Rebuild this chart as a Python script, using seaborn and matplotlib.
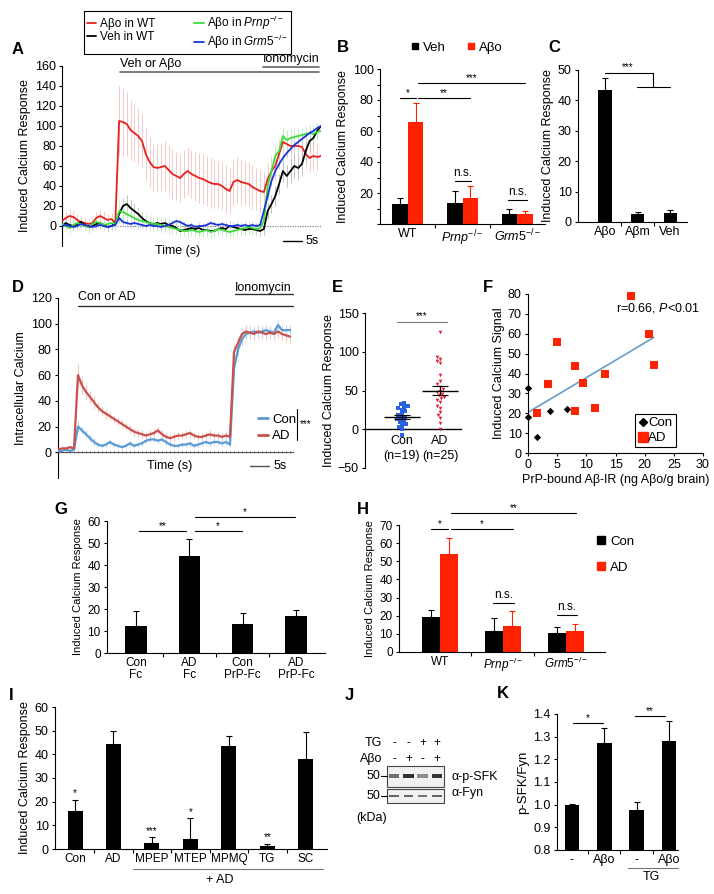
import numpy as np
import pandas as pd
import matplotlib
matplotlib.use("Agg")
import matplotlib.pyplot as plt
from matplotlib.lines import Line2D
from matplotlib.patches import Rectangle
from matplotlib.transforms import blended_transform_factory
import seaborn as sns

# ======================= DATA =======================
# ---- A: calcium traces (time in s) ----
A_time = list(range(69))
A_keys = ['red', 'black', 'green', 'blue']
A_labels = ['Aβo in WT', 'Veh in WT', 'Aβo in $\\mathit{Prnp}^{-/-}$', 'Aβo in $\\mathit{Grm5}^{-/-}$']
A_red = [5, 8, 10, 9, 6, 4, 3, 2, 3, 8, 10, 8, 6, 7, 3,
         105, 104, 102, 96, 93, 90, 85, 72, 64, 59, 58, 59, 60, 56, 52, 50, 48, 52, 55, 52,
         50, 48, 47, 45, 43, 42, 42, 40, 37, 35, 44, 46, 44, 43, 42, 39, 37, 35, 34, 47,
         55, 60, 72, 84, 82, 80, 80, 80, 79, 72, 68, 70, 69, 70]
A_black = [0, 3, 1, 0, 2, 4, 1, -1, 0, 2, 3, 1, -1, 0, 3,
           12, 20, 22, 18, 15, 12, 8, 5, 3, 2, 3, 2, 3, 1, 0, -2, -5, -4, -3, -2,
           -3, -2, -4, -4, -5, -5, -3, -2, -3, 0, -1, -2, -3, -4, -3, -3, -4, -5, -3, 15,
           22, 30, 42, 55, 50, 55, 60, 58, 62, 75, 85, 88, 95, 100]
A_green = [2, 0, -2, 1, 3, 2, 0, -1, 2, 4, 3, 1, 2, 3, 2,
           15, 14, 12, 10, 8, 6, 5, 4, 3, 2, 2, 1, 0, -1, -2, -3, -4, -5, -5, -4,
           -5, -6, -5, -4, -6, -5, -3, -4, -5, -6, -5, -4, -3, -2, -1, -2, -3, -2, 5, 40,
           55, 70, 75, 90, 86, 88, 89, 90, 91, 92, 93, 92, 94, 95]
A_blue = [0, 1, 0, -1, 0, 2, 1, 0, -1, 0, 1, 0, -1, 0, 1,
          8, 4, 3, 2, 3, 2, 1, 0, 1, 0, 0, -1, 0, 1, 3, 5, 4, 2, 0, 1,
          -1, 0, 0, 1, 3, 2, 1, 2, 1, 0, 0, 1, 0, 1, 0, 1, 0, 1, 15, 30,
          45, 55, 62, 68, 73, 77, 81, 84, 87, 90, 93, 95, 98, 100]
A_red_err = [6, 6, 7, 7, 6, 6, 5, 5, 6, 6, 7, 7, 6, 6, 6,
             35, 34, 32, 30, 29, 28, 27,
             26, 25, 24, 24, 24, 25, 25, 25, 24, 24, 24, 24, 24, 25, 25, 25, 25, 25, 24, 24,
             24, 24, 23, 23, 23, 23, 22, 22, 22, 21, 21, 20,
             16, 15, 15, 15, 14, 14, 14, 14, 14, 14, 14, 14, 14, 14, 14]
A_black_err = [4, 4, 4, 5, 4, 4, 4, 5, 4, 4, 4, 4, 5, 4, 4,
               6, 8, 9, 9, 8, 7, 6, 6, 5, 5, 5,
               5, 5, 5, 5, 5, 5, 4, 5, 5, 5, 5, 5, 5, 5, 4, 5, 5, 5, 5, 5, 5, 5, 5, 4, 5, 5, 5, 6,
               8, 9, 10, 10, 11, 11, 12, 12, 12, 12, 11, 10, 9, 8, 8]
A_green_err = [5, 5, 6, 6, 5, 5, 5, 6, 6, 5, 5, 5, 6, 6, 6,
               12, 12, 11, 10, 9, 9, 8, 8, 7, 7, 7,
               7, 7, 7, 7, 6, 6, 6, 6, 6, 6, 6, 6, 6, 6, 6, 6, 6, 6, 6, 6, 6, 6, 6, 6, 6, 6, 6, 7,
               10, 10, 10, 9, 9, 9, 9, 8, 8, 8, 8, 8, 8, 8, 8]
A_blue_err = [3, 3, 3, 3, 3, 3, 3, 3, 3, 3, 3, 3, 3, 3, 3,
              4, 4, 4, 4, 4, 3, 3, 3, 3, 3, 3,
              3, 3, 3, 3, 3, 3, 3, 3, 3, 3, 3, 3, 3, 3, 3, 3, 3, 3, 3, 3, 3, 3, 3, 3, 3, 3, 3, 4,
              4, 4, 4, 4, 4, 4, 4, 4, 4, 4, 4, 4, 4, 4, 4]

# ---- B ----
B_groups = ['WT', 'Prnp', 'Grm5']
B_ticklabels = ['WT', '$\\mathit{Prnp}^{-/-}$', '$\\mathit{Grm5}^{-/-}$']
B_treat = ['Veh', 'Aβo']
B_veh = [13, 13.5, 6.5]
B_veh_err = [4, 7.5, 3]
B_abo = [66, 17, 6.5]
B_abo_err = [12, 7.5, 2]

# ---- C ----
C_labels = ['Aβo', 'Aβm', 'Veh']
C_mean = [43.5, 2.6, 3.0]
C_err = [4, 0.7, 1]

# ---- D ----
D_time = list(range(59))
D_ad = [2, 3, 3, 4, 3,
        60, 52, 47, 43, 39, 35, 32, 30, 28, 26,
        24, 22, 20, 18, 16, 15, 14, 13, 14, 15,
        17, 14, 12, 11, 12, 13, 13, 14, 15, 13,
        12, 12, 13, 14, 13, 13, 12, 13, 12, 78,
        85, 92, 94, 93, 92, 94, 93, 92, 93, 92,
        94, 92, 91, 90]
D_con = [1, 1, 2, 1, 2,
         20, 17, 14, 11, 8, 6, 5, 6, 8, 6,
         5, 4, 5, 7, 5, 6, 7, 9, 10, 10,
         9, 10, 8, 6, 5, 5, 6, 6, 7, 5,
         6, 7, 8, 7, 8, 8, 7, 8, 6, 65,
         80, 88, 92, 93, 94, 93, 94, 95, 94, 93,
         99, 95, 95, 95]
D_ad_err = [2, 2, 2, 2, 2,
            9, 7, 6, 5, 5, 4, 4, 4, 3, 3,
            3, 3, 3, 3, 3, 3, 3, 3, 3, 3,
            3, 3, 3, 3, 3, 3, 3, 3, 3, 3,
            3, 3, 3, 3, 3, 3, 3, 3, 3, 6,
            5, 5, 5, 5, 5, 5, 5, 5, 5, 5,
            5, 5, 5, 5]
D_con_err = [2, 2, 2, 2, 2,
             4, 3, 3, 3, 3, 2, 2, 2, 2, 2,
             2, 2, 2, 2, 2, 2, 2, 2, 2, 2,
             2, 2, 2, 2, 2, 2, 2, 2, 2, 2,
             2, 2, 2, 2, 2, 2, 2, 2, 2, 6,
             5, 5, 4, 4, 4, 4, 4, 4, 4, 4,
             4, 4, 4, 4]

# ---- E ----
E_con = [34, 32, 30, 29, 27, 25, 23, 20, 18, 16, 15, 13, 11, 9, 7, 5, 3, 0, -8]
E_ad = [126, 93, 91, 88, 85, 70, 62, 58, 55, 52, 50, 48, 46, 44, 42, 40, 38, 35, 30, 27,
        22, 18, 14, 8, 0]
E_ticklabels = ['Con\n(n=19)', 'AD\n(n=25)']

# ---- F ----
F_con_x = [0, 0, 1.6, 3.8, 6.6]
F_con_y = [32.5, 18, 8, 21, 22]
F_ad_x = [1.6, 3.5, 4.9, 8.0, 8.0, 9.5, 11.5, 13.2, 17.6, 20.7, 21.6]
F_ad_y = [20, 34.5, 56, 44, 21, 35, 22.5, 40, 79, 60, 44.5]

# ---- G ----
G_labels = ['Con\nFc', 'AD\nFc', 'Con\nPrP-Fc', 'AD\nPrP-Fc']
G_mean = [12.3, 44, 13, 17]
G_err = [6.7, 8, 5, 2.5]

# ---- H ----
H_groups = ['WT', 'Prnp', 'Grm5']
H_ticklabels = ['WT', '$\\mathit{Prnp}^{-/-}$', '$\\mathit{Grm5}^{-/-}$']
H_con = [19.3, 11.8, 10.3]
H_con_err = [3.7, 7.1, 3.4]
H_ad = [54, 14.4, 11.6]
H_ad_err = [9, 8.3, 3.8]

# ---- I ----
I_labels = ['Con', 'AD', 'MPEP', 'MTEP', 'MPMQ', 'TG', 'SC']
I_mean = [16.1, 44.3, 2.5, 4.3, 43.6, 1.4, 38]
I_err = [4.7, 5.6, 2.5, 8.7, 4.1, 0.8, 11.5]
I_stars = ['*', '', '***', '*', '', '**', '']

# ---- J (blot) ----
J_tg = ['-', '-', '+', '+']
J_abo = ['-', '+', '-', '+']
J_psfk = [0.55, 0.8, 0.45, 0.8]
J_fyn = [0.6, 0.6, 0.55, 0.6]

# ---- K ----
K_ids = ['c', 'a', 'tc', 'ta']
K_labels = ['-', 'Aβo', '-', 'Aβo']
K_mean = [1.0, 1.273, 0.976, 1.282]
K_err = [0.003, 0.067, 0.034, 0.088]

# ======================= STYLE =======================
sns.set_style('ticks')
plt.rcParams.update({
    'font.family': ['Liberation Sans', 'DejaVu Sans'],
    'mathtext.fontset': 'custom',
    'mathtext.rm': 'Liberation Sans',
    'mathtext.it': 'Liberation Sans:italic',
    'mathtext.bf': 'Liberation Sans:bold',
    'axes.linewidth': 0.8,
    'axes.edgecolor': 'black',
    'axes.labelcolor': 'black',
    'text.color': 'black',
    'xtick.color': 'black', 'ytick.color': 'black',
    'xtick.major.width': 0.8, 'ytick.major.width': 0.8,
    'xtick.major.size': 3, 'ytick.major.size': 3,
    'xtick.major.pad': 2, 'ytick.major.pad': 2,
})

RED = '#ff2200'
W, H = 714, 894
fig = plt.figure(figsize=(W / 100, H / 100), dpi=100)


def px_axes(x0, y0, x1, y1):
    return fig.add_axes([x0 / W, 1 - y1 / H, (x1 - x0) / W, (y1 - y0) / H])


def fx(x):
    return x / W


def fy(y):
    return 1 - y / H


def ftext(x, y, s, **kw):
    kw.setdefault('va', 'center')
    fig.text(fx(x), fy(y), s, **kw)


def fline(x0, x1, y0, y1=None, **kw):
    if y1 is None:
        y1 = y0
    kw.setdefault('color', 'black')
    kw.setdefault('lw', 0.8)
    fig.add_artist(Line2D([fx(x0), fx(x1)], [fy(y0), fy(y1)], transform=fig.transFigure, **kw))


def sig(ax, x1, x2, y, text, fs=8, color='black', dy=0.0):
    ax.plot([x1, x2], [y, y], color=color, lw=0.8, clip_on=False)
    ax.text((x1 + x2) / 2, y + dy, text, ha='center', va='bottom', fontsize=fs, clip_on=False)


def bar_err(ax, xs, means, errs, color='black'):
    ax.errorbar(xs, means, yerr=[np.zeros(len(means)), errs], fmt='none', ecolor=color,
                elinewidth=0.8, capsize=2.2, capthick=0.8, zorder=3)


def cat_axis(ax, n, labels, fs):
    ax.set_xticks(range(n))
    ax.set_xticklabels(labels, fontsize=fs)
    ax.set_xticks(np.arange(n - 1) + 0.5, minor=True)
    ax.tick_params(axis='x', which='major', length=0, pad=3)
    ax.tick_params(axis='x', which='minor', length=3, width=0.8, direction='out', color='black')
    ax.set_xlabel('')
    sns.despine(ax=ax)


def letter(x, y, s):
    ftext(x, y, s, fontsize=12, fontweight='bold', ha='left')


# ======================= PANEL A =======================
axA = px_axes(62, 66, 321, 246)
A_vals = [A_red, A_black, A_green, A_blue]
A_errs = [A_red_err, A_black_err, A_green_err, A_blue_err]
A_cols = {'red': '#e8211d', 'black': '#000000', 'green': '#3ddc3a', 'blue': '#1a35d4'}
A_ecols = ['#f5c2c2', '#b8b8b8', '#c2f0be', '#bcc8f2']
for v, e, c in zip(A_vals, A_errs, A_ecols):
    v = np.array(v, float); e = np.array(e, float)
    axA.vlines(A_time, v - e, v + e, color=c, lw=0.6, zorder=1)
dfA = pd.DataFrame({'t': np.tile(A_time, 4),
                    'value': np.concatenate(A_vals),
                    'series': np.repeat(A_keys, len(A_time))})
axA.axhline(0, color='#888888', lw=0.9, ls=(0, (1, 1)), zorder=0)
sns.lineplot(data=dfA, x='t', y='value', hue='series', hue_order=A_keys, palette=A_cols,
             lw=1.3, legend=False, errorbar=None, ax=axA, zorder=3)
axA.set_xlim(0, 68)
axA.set_ylim(-20, 160)
axA.set_yticks(range(0, 161, 20))
axA.tick_params(axis='y', labelsize=9, length=2)
axA.set_xticks([])
axA.set_xlabel('')
axA.set_ylabel('Induced Calcium Response', fontsize=9, labelpad=3)
for s in ['top', 'right', 'bottom']:
    axA.spines[s].set_visible(False)
ftext(178, 251, 'Time (s)', fontsize=9, ha='center')
fline(283, 302, 241, color='black', lw=1)
ftext(306, 241, '5s', fontsize=9, ha='left')
ftext(120, 64, 'Veh or Aβo', fontsize=9, ha='left')
fline(120, 319, 72, color='#666666', lw=1.2)
ftext(263, 59, 'Ionomycin', fontsize=9, ha='left')
fline(263, 319, 67, color='#666666', lw=1.2)
A_handles = [Line2D([], [], color=A_cols[k], lw=1.3) for k in A_keys]
legA = fig.legend(A_handles, A_labels, loc='upper left', bbox_to_anchor=(fx(84), fy(11)), ncol=2,
                  fontsize=8.5, frameon=True, fancybox=False, edgecolor='black', framealpha=1,
                  handlelength=0.8, handletextpad=0.3, columnspacing=3.3, labelspacing=0.05,
                  borderpad=0.25, borderaxespad=0)
legA.get_frame().set_linewidth(0.8)
letter(12, 50, 'A')

# ======================= PANEL B =======================
axB = px_axes(380, 69, 545, 224)
dfB = pd.DataFrame({'group': B_groups * 2, 'treat': [B_treat[0]] * 3 + [B_treat[1]] * 3,
                    'value': B_veh + B_abo})
sns.barplot(data=dfB, x='group', y='value', hue='treat', hue_order=B_treat, order=B_groups,
            palette=['black', RED], width=0.57, saturation=1, errorbar=None, legend=False,
            ax=axB, linewidth=0)
for j, (m, e, c) in enumerate([(B_veh, B_veh_err, 'black'), (B_abo, B_abo_err, RED)]):
    bar_err(axB, np.arange(3) + (j - 0.5) * 0.285, m, e, c)
axB.set_xlim(-0.51, 2.51)
axB.set_ylim(0, 100)
axB.set_yticks(range(0, 101, 10))
axB.set_yticklabels(['' if (v % 20 or v == 0) else str(v) for v in range(0, 101, 10)])
axB.tick_params(axis='y', labelsize=9, length=2.5)
cat_axis(axB, 3, B_ticklabels, 9)
axB.set_ylabel('Induced Calcium Response', fontsize=9, labelpad=3)
sig(axB, -0.14, 0.14, 81, '*', fs=7)
sig(axB, 0.18, 1.14, 81, '**', fs=7)
sig(axB, 0.18, 2.15, 91, '***', fs=7)
sig(axB, 0.86, 1.16, 28, 'n.s.', fs=8.5, dy=1)
sig(axB, 1.84, 2.18, 15.5, 'n.s.', fs=8.5, dy=1)
B_handles = [Line2D([], [], marker='s', color=c, ls='', markersize=5) for c in ['black', RED]]
fig.legend(B_handles, B_treat, loc='center', bbox_to_anchor=(fx(457), fy(48)), ncol=2,
           fontsize=9.5, frameon=False, handlelength=0.6, handletextpad=0.3, columnspacing=1.6)
letter(337, 48, 'B')

# ======================= PANEL C =======================
axC = px_axes(578, 70, 687, 222)
sns.barplot(x=C_labels, y=C_mean, color='black', width=0.4, saturation=1, errorbar=None,
            ax=axC, linewidth=0)
bar_err(axC, range(3), C_mean, C_err)
axC.set_xlim(-0.83, 2.52)
axC.set_ylim(0, 50)
axC.set_yticks(range(0, 51, 10))
axC.tick_params(axis='y', labelsize=9, length=2.5)
cat_axis(axC, 3, C_labels, 9)
axC.set_ylabel('Induced Calcium Response', fontsize=9, labelpad=3)
axC.plot([0, 1.48, 1.48], [49, 49, 44.5], color='black', lw=0.8, clip_on=False)
axC.plot([0.98, 2.0], [44.5, 44.5], color='black', lw=0.8, clip_on=False)
axC.text(0.7, 49.3, '***', ha='center', va='bottom', fontsize=7)
letter(548, 48, 'C')

# ======================= PANEL D =======================
axD = px_axes(58, 298, 293, 478)
D_ecols = {'Con': '#c3d8ee', 'AD': '#f2c6c4'}
D_cols = {'Con': '#5b9bd5', 'AD': '#c9504b'}
for v, e, k in [(D_ad, D_ad_err, 'AD'), (D_con, D_con_err, 'Con')]:
    v = np.array(v, float); e = np.array(e, float)
    axD.vlines(D_time, v - e, v + e, color=D_ecols[k], lw=0.8, zorder=1)
dfD = pd.DataFrame({'t': np.tile(D_time, 2), 'value': np.concatenate([D_con, D_ad]),
                    'cond': np.repeat(['Con', 'AD'], len(D_time))})
sns.lineplot(data=dfD, x='t', y='value', hue='cond', hue_order=['Con', 'AD'], palette=D_cols,
             lw=1.6, legend=False, errorbar=None, ax=axD, zorder=3)
axD.set_xlim(0, 58.75)
axD.set_ylim(-20, 120)
axD.set_yticks(range(0, 121, 20))
axD.tick_params(axis='y', labelsize=9, length=2.5)
axD.spines['bottom'].set_position(('data', 0))
axD.spines['bottom'].set_color('#555555')
axD.set_xticks(D_time)
axD.set_xticklabels([])
axD.tick_params(axis='x', length=2, width=0.6, direction='inout', color='#555555')
axD.set_xlabel('')
axD.set_ylabel('Intracellular Calcium', fontsize=9, labelpad=3)
sns.despine(ax=axD)
ftext(170, 466, 'Time (s)', fontsize=9, ha='center')
fline(250, 269, 466, color='#555555', lw=1)
ftext(274, 466, '5s', fontsize=9, ha='left')
ftext(78, 297, 'Con or AD', fontsize=9, ha='left')
fline(78, 293, 306, color='#333333', lw=1)
ftext(235, 288, 'Ionomycin', fontsize=9, ha='left')
fline(235, 293, 294, color='#333333', lw=1)
D_handles = [Line2D([], [], color=D_cols[k], lw=2) for k in ['Con', 'AD']]
fig.legend(D_handles, ['Con', 'AD'], loc='upper left', bbox_to_anchor=(fx(246), fy(402)),
           fontsize=9.5, frameon=False, handlelength=0.8, handletextpad=0.3, labelspacing=0.3)
fline(297, 297, 409, 440, color='black', lw=0.8)
ftext(300, 424, '***', fontsize=7, ha='left')
letter(12, 288, 'D')

# ======================= PANEL E =======================
axE = px_axes(365, 313, 461, 468)
dfE_con = pd.DataFrame({'group': ['Con'] * len(E_con), 'value': E_con})
dfE_ad = pd.DataFrame({'group': ['AD'] * len(E_ad), 'value': E_ad})
sns.swarmplot(data=dfE_con, x='group', y='value', order=['Con', 'AD'], marker='s',
              color='#2a62e0', size=2.8, ax=axE, linewidth=0)
sns.swarmplot(data=dfE_ad, x='group', y='value', order=['Con', 'AD'], marker='v',
              color='#e0203c', size=2.6, ax=axE, linewidth=0)
for i, vals in enumerate([E_con, E_ad]):
    vals = np.array(vals, float)
    m = vals.mean()
    s = vals.std(ddof=1) / np.sqrt(len(vals))
    axE.hlines(m, i - 0.48, i + 0.48, color='black', lw=1, zorder=4)
    axE.hlines([m - s, m + s], i - 0.22, i + 0.22, color='black', lw=0.8, zorder=4)
    axE.vlines(i, m - s, m + s, color='black', lw=0.8, zorder=4)
axE.set_xlim(-0.97, 1.55)
axE.set_ylim(-50, 150)
axE.set_yticks([-50, 0, 50, 100, 150])
axE.tick_params(axis='y', labelsize=9, length=2.5)
axE.spines['bottom'].set_position(('data', 0))
axE.spines['bottom'].set_linewidth(1)
axE.set_xticks([0, 1])
axE.set_xticklabels(E_ticklabels, fontsize=9, linespacing=1.3)
axE.tick_params(axis='x', length=0, pad=4)
axE.set_xlabel('')
axE.set_ylabel('Induced Calcium Response', fontsize=9, labelpad=2)
sns.despine(ax=axE)
sig(axE, -0.13, 1.18, 139, '***', fs=7, color='#777777')
letter(332, 287, 'E')

# ======================= PANEL F =======================
axF = px_axes(528, 294, 703, 453)
sns.regplot(x=np.array(F_con_x + F_ad_x), y=np.array(F_con_y + F_ad_y), scatter=False, ci=None,
            truncate=True, line_kws=dict(color='#6a9cc8', lw=1.2), ax=axF)
sns.scatterplot(x=F_con_x, y=F_con_y, marker='D', color='black', s=14, linewidth=0, ax=axF,
                clip_on=False, zorder=4)
sns.scatterplot(x=F_ad_x, y=F_ad_y, marker='s', color=RED, s=36, linewidth=0, ax=axF,
                clip_on=False, zorder=4)
axF.set_xlim(0, 30)
axF.set_ylim(0, 80)
axF.set_xticks(range(0, 31, 5))
axF.set_yticks(range(0, 81, 10))
axF.tick_params(labelsize=9, length=2.5)
axF.set_xlabel('PrP-bound Aβ-IR (ng Aβo/g brain)', fontsize=9, labelpad=2)
axF.set_ylabel('Induced Calcium Signal', fontsize=9, labelpad=2)
sns.despine(ax=axF)
axF.text(15.1, 73, 'r=0.66, $\\mathit{P}$<0.01', fontsize=9, va='center', ha='left')
F_handles = [Line2D([], [], marker='D', color='black', ls='', markersize=4),
             Line2D([], [], marker='s', color=RED, ls='', markersize=6.5)]
legF = axF.legend(F_handles, ['Con', 'AD'], loc='lower right', bbox_to_anchor=(0.845, 0.035),
                  fontsize=9.5, frameon=True, fancybox=False, edgecolor='black', framealpha=1,
                  handlelength=0.6, handletextpad=0.15, borderpad=0.25, labelspacing=0.2,
                  borderaxespad=0)
legF.get_frame().set_linewidth(0.8)
letter(483, 287, 'F')

# ======================= PANEL G =======================
axG = px_axes(107, 521, 325, 653)
sns.barplot(x=G_labels, y=G_mean, color='black', width=0.4, saturation=1, errorbar=None,
            ax=axG, linewidth=0)
bar_err(axG, range(4), G_mean, G_err)
axG.set_xlim(-0.54, 3.54)
axG.set_ylim(0, 60)
axG.set_yticks(range(0, 61, 10))
axG.tick_params(axis='y', labelsize=8.5, length=2.5)
cat_axis(axG, 4, G_labels, 8.5)
for t in axG.get_xticklabels():
    t.set_linespacing(0.95)
axG.set_ylabel('Induced Calcium Response', fontsize=8, labelpad=3)
sig(axG, 0.06, 0.93, 55.5, '**', fs=7)
sig(axG, 1.1, 1.98, 55.5, '*', fs=7)
sig(axG, 1.1, 2.97, 62, '*', fs=7)
letter(54, 509, 'G')

# ======================= PANEL H =======================
axH = px_axes(399, 525, 605, 652)
dfH = pd.DataFrame({'group': H_groups * 2, 'cond': ['Con'] * 3 + ['AD'] * 3,
                    'value': H_con + H_ad})
sns.barplot(data=dfH, x='group', y='value', hue='cond', hue_order=['Con', 'AD'], order=H_groups,
            palette=['black', RED], width=0.56, saturation=1, errorbar=None, legend=False,
            ax=axH, linewidth=0)
for j, (m, e, c) in enumerate([(H_con, H_con_err, 'black'), (H_ad, H_ad_err, RED)]):
    bar_err(axH, np.arange(3) + (j - 0.5) * 0.28, m, e, c)
axH.set_xlim(-0.65, 2.62)
axH.set_ylim(0, 70)
axH.set_yticks(range(0, 71, 10))
axH.tick_params(axis='y', labelsize=8.5, length=2.5)
cat_axis(axH, 3, H_ticklabels, 8.5)
axH.set_ylabel('Induced Calcium Response', fontsize=8, labelpad=3)
sig(axH, -0.14, 0.13, 68, '*', fs=7)
sig(axH, 0.17, 1.16, 68, '*', fs=7)
sig(axH, 0.17, 2.16, 76.5, '**', fs=7)
sig(axH, 0.84, 1.17, 27, 'n.s.', fs=8.5, dy=1)
sig(axH, 1.86, 2.17, 20.5, 'n.s.', fs=8.5, dy=1)
H_handles = [Line2D([], [], marker='s', color=c, ls='', markersize=5.5) for c in ['black', RED]]
fig.legend(H_handles, ['Con', 'AD'], loc='upper left', bbox_to_anchor=(fx(585), fy(524)),
           fontsize=9.5, frameon=False, handlelength=0.6, handletextpad=0.4, labelspacing=1.0)
letter(357, 509, 'H')

# ======================= PANEL I =======================
axI = px_axes(55, 707, 327, 849)
sns.barplot(x=I_labels, y=I_mean, color='black', width=0.39, saturation=1, errorbar=None,
            ax=axI, linewidth=0)
bar_err(axI, range(7), I_mean, I_err)
for i, st in enumerate(I_stars):
    if st:
        axI.text(i, I_mean[i] + I_err[i] + 0.6, st, ha='center', va='bottom', fontsize=7)
axI.set_xlim(-0.52, 6.55)
axI.set_ylim(0, 60)
axI.set_yticks(range(0, 61, 10))
axI.tick_params(axis='y', labelsize=9, length=2.5)
cat_axis(axI, 7, I_labels, 8.5)
axI.set_ylabel('Induced Calcium Response', fontsize=9, labelpad=3)
trI = blended_transform_factory(axI.transData, axI.transAxes)
axI.plot([1.5, 6.44], [-0.14, -0.14], color='#777777', lw=0.8, transform=trI, clip_on=False)
axI.text(3.77, -0.215, '+ AD', ha='center', va='center', fontsize=9, transform=trI)
letter(9, 695, 'I')

# ======================= PANEL J (blot) =======================
axJ = px_axes(387, 766, 444, 803)
axJ.set_xlim(-0.5, 3.5)
axJ.set_ylim(803, 766)
axJ.axis('off')
axJ.add_patch(Rectangle((-0.5, 766), 4, 21, facecolor='#f1f1f1', edgecolor='#444444', lw=0.8,
                        clip_on=False))
axJ.add_patch(Rectangle((-0.5, 789), 4, 14, facecolor='#f1f1f1', edgecolor='#444444', lw=0.8,
                        clip_on=False))
for i in range(4):
    g = 1 - J_psfk[i]
    axJ.add_patch(Rectangle((i - 0.36, 774.5), 0.72, 3.2, facecolor=(g, g, g), lw=0))
    g2 = 1 - J_fyn[i]
    axJ.add_patch(Rectangle((i - 0.33, 795), 0.66, 2.2, facecolor=(g2, g2, g2), lw=0))
    axJ.text(i, 743, J_tg[i], ha='center', va='center', fontsize=8.5, clip_on=False)
    axJ.text(i, 759, J_abo[i], ha='center', va='center', fontsize=8.5, clip_on=False)
axJ.text(-0.85, 743, 'TG', ha='right', va='center', fontsize=9, clip_on=False)
axJ.text(-0.85, 759, 'Aβo', ha='right', va='center', fontsize=9, clip_on=False)
for yb in [776, 796]:
    axJ.text(-0.95, yb, '50', ha='right', va='center', fontsize=9, clip_on=False)
    axJ.plot([-0.92, -0.5], [yb, yb], color='black', lw=0.8, clip_on=False)
axJ.text(-1.6, 818, '(kDa)', ha='center', va='center', fontsize=9, clip_on=False)
axJ.text(4.0, 777, 'α-p-SFK', ha='left', va='center', fontsize=9, clip_on=False)
axJ.text(4.0, 793, 'α-Fyn', ha='left', va='center', fontsize=9, clip_on=False)
letter(345, 695, 'J')

# ======================= PANEL K =======================
axK = px_axes(557, 714, 678, 850)
sns.barplot(x=K_ids, y=K_mean, color='black', width=0.45, saturation=1, errorbar=None,
            ax=axK, linewidth=0)
bar_err(axK, range(4), K_mean, K_err)
axK.set_xlim(-0.46, 3.28)
axK.set_ylim(0.8, 1.4)
axK.set_yticks([0.8, 0.9, 1.0, 1.1, 1.2, 1.3, 1.4])
axK.set_yticklabels(['0.8', '0.9', '1.0', '1.1', '1.2', '1.3', '1.4'])
axK.tick_params(axis='y', labelsize=9, length=2.5)
cat_axis(axK, 4, K_labels, 9)
axK.set_ylabel('p-SFK/Fyn', fontsize=9.5, labelpad=3)
sig(axK, 0.03, 0.96, 1.36, '*', fs=7)
sig(axK, 1.95, 2.88, 1.39, '**', fs=7)
trK = blended_transform_factory(axK.transData, axK.transAxes)
axK.plot([1.73, 3.28], [-0.13, -0.13], color='#777777', lw=0.8, transform=trK, clip_on=False)
axK.text(2.45, -0.2, 'TG', ha='center', va='center', fontsize=9, transform=trK)
letter(497, 693, 'K')

fig.savefig('out.png', dpi=100, facecolor='white')
